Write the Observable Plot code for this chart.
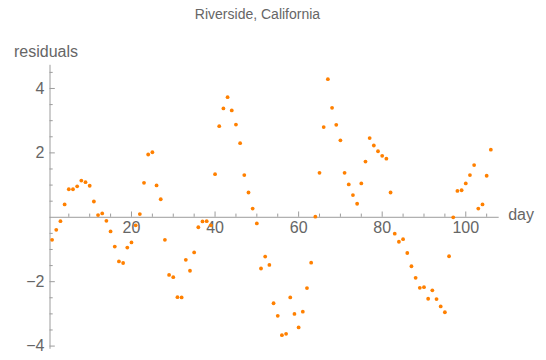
<!DOCTYPE html>
<html>
<head>
<meta charset="utf-8">
<script src="https://cdn.jsdelivr.net/npm/d3@7"></script>
<script src="https://cdn.jsdelivr.net/npm/@observablehq/plot@0.6"></script>
<style>
  html, body { margin: 0; padding: 0; background: #fff; }
  #chart svg { display: block; }
</style>
</head>
<body>
<div id="chart"></div>
<script>
const title = "Riverside, California";
const xLabel = "day";
const yLabel = "residuals";

const days = [1,2,3,4,5,6,7,8,9,10,11,12,13,14,15,16,17,18,19,20,21,22,23,24,25,26,27,28,29,30,31,32,33,34,35,36,37,38,39,40,41,42,43,44,45,46,47,48,49,50,51,52,53,54,55,56,57,58,59,60,61,62,63,64,65,66,67,68,69,70,71,72,73,74,75,76,77,78,79,80,81,82,83,84,85,86,87,88,89,90,91,92,93,94,95,96,97,98,99,100,101,102,103,104,105,106];

const residuals = [
  -0.70,-0.39,-0.12,0.40,0.87,0.87,0.96,1.14,1.09,0.98,
  0.49,0.07,0.12,-0.11,-0.44,-0.91,-1.37,-1.42,-0.94,-0.78,
  -0.25,0.10,1.07,1.95,2.02,0.99,0.56,-0.70,-1.79,-1.86,
  -2.48,-2.49,-1.32,-1.66,-1.09,-0.31,-0.13,-0.12,-0.25,1.34,
  2.83,3.38,3.73,3.32,2.88,2.30,1.31,0.77,0.27,-0.19,
  -1.59,-1.22,-1.48,-2.67,-3.06,-3.66,-3.62,-2.49,-3.00,-3.42,
  -2.93,-2.20,-1.41,0.02,1.38,2.80,4.29,3.40,2.87,2.39,
  1.38,1.02,0.69,0.42,1.05,1.73,2.46,2.23,2.05,1.91,
  1.82,0.77,-0.51,-0.76,-0.68,-1.11,-1.52,-1.88,-2.19,-2.17,
  -2.53,-2.27,-2.54,-2.77,-2.95,-1.21,0.00,0.82,0.84,1.05,
  1.31,1.62,0.27,0.40,1.29,2.10
];

const xMajorTicks = [20, 40, 60, 80, 100];
const xMinorTicks = [5, 10, 15, 25, 30, 35, 45, 50, 55, 65, 70, 75, 85, 90, 95, 105];
const yMajorTicks = [-4, -2, 2, 4];
const yMinorTicks = [-3.5, -3, -2.5, -1.5, -1, -0.5, 0.5, 1, 1.5, 2.5, 3, 3.5, 4.5];

const data = days.map((d, i) => ({day: d, residual: residuals[i]}));

const W = 546, H = 360;
const mL = 49.5, mR = 47.3, mT = 64.8, mB = 11.2;
const xDomain = [0.5, 108];
const yDomain = [-4.1, 4.72];
const pxPerX = (W - mL - mR) / (xDomain[1] - xDomain[0]);
const pxPerY = (H - mT - mB) / (yDomain[1] - yDomain[0]);

const axisColor = "#9c9c9c";
const labelColor = "#666666";
const dotColor = "#ff8000";
const majorLen = 5.3, minorLen = 3.2;
const fmt = v => (v < 0 ? "\u2212" : "") + Math.abs(v);

const chart = Plot.plot({
  width: W,
  height: H,
  marginLeft: mL,
  marginRight: mR,
  marginTop: mT,
  marginBottom: mB,
  style: {background: "#fff", fontFamily: "'Liberation Sans', Arial, sans-serif"},
  x: {domain: xDomain, axis: null},
  y: {domain: yDomain, axis: null},
  marks: [
    // axis lines
    Plot.ruleY([0], {x1: xDomain[0], x2: xDomain[1], stroke: axisColor, strokeWidth: 1}),
    Plot.ruleX([xDomain[0]], {y1: yDomain[0], y2: yDomain[1], stroke: axisColor, strokeWidth: 1}),
    // x ticks (pointing up)
    Plot.ruleX(xMajorTicks, {x: d => d, y1: 0, y2: majorLen / pxPerY, stroke: axisColor}),
    Plot.ruleX(xMinorTicks, {x: d => d, y1: 0, y2: minorLen / pxPerY, stroke: axisColor}),
    // y ticks (pointing right)
    Plot.ruleY(yMajorTicks, {y: d => d, x1: xDomain[0], x2: xDomain[0] + majorLen / pxPerX, stroke: axisColor}),
    Plot.ruleY(yMinorTicks, {y: d => d, x1: xDomain[0], x2: xDomain[0] + minorLen / pxPerX, stroke: axisColor}),
    // tick labels
    Plot.text(xMajorTicks, {x: d => d, y: 0, dy: 11, text: d => fmt(d), fill: labelColor, fontSize: 16}),
    Plot.text(yMajorTicks, {x: xDomain[0], y: d => d, dx: -5.5, textAnchor: "end", text: d => fmt(d), fill: labelColor, fontSize: 16}),
    // axis labels
    Plot.text([xLabel], {x: xDomain[1], y: 0, dx: 9, dy: -2, textAnchor: "start", text: d => d, fill: labelColor, fontSize: 16}),
    Plot.text([yLabel], {frameAnchor: "top-left", dx: -36, dy: -8.3, textAnchor: "start", lineAnchor: "bottom", text: d => d, fill: labelColor, fontSize: 16}),
    // title
    Plot.text([title], {frameAnchor: "top-left", dx: 207.5, dy: -46.5, textAnchor: "middle", lineAnchor: "bottom", text: d => d, fill: labelColor, fontSize: 14}),
    // data
    Plot.dot(data, {x: "day", y: "residual", r: 1.9, fill: dotColor, stroke: "none"})
  ]
});

document.getElementById("chart").appendChild(chart);
</script>
</body>
</html>
